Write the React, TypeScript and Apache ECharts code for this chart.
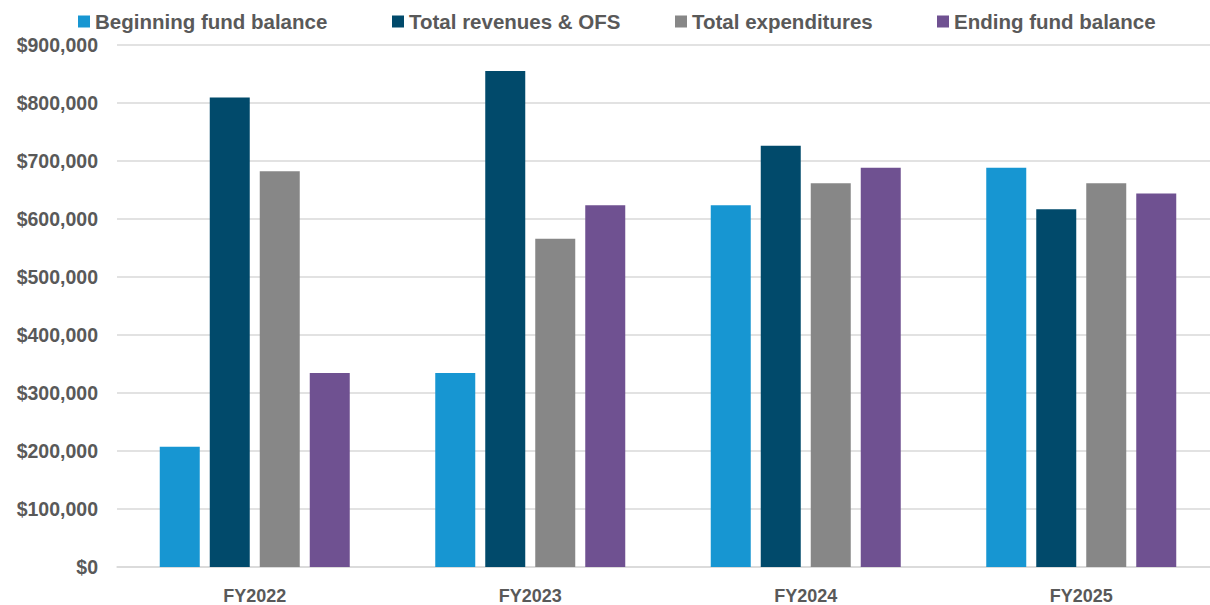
import React, { useEffect, useRef } from "react";
import * as echarts from "echarts";

// Fiscal years on the category axis
const years = ["FY2022", "FY2023", "FY2024", "FY2025"];

// Fund summary by fiscal year (dollars)
const beginningBalance = [207500, 334500, 623500, 688500];
const revenuesOFS = [809500, 855000, 726500, 617000];
const expenditures = [682500, 566000, 661500, 661500];
const endingBalance = [334500, 623500, 688500, 644000];

const seriesNames = [
  "Beginning fund balance",
  "Total revenues & OFS",
  "Total expenditures",
  "Ending fund balance",
];
const seriesColors = ["#1796D2", "#014A6B", "#878787", "#6F5191"];
const seriesValues = [beginningBalance, revenuesOFS, expenditures, endingBalance];

// Left offsets of the four legend entries across the top row
const legendLefts = [78, 392, 675, 937];

const FONT = "'Liberation Sans', Arial, sans-serif";
const TEXT = "#595959";

export default function App() {
  const ref = useRef<HTMLDivElement>(null);

  useEffect(() => {
    if (!ref.current) return;
    const chart = echarts.init(ref.current, undefined, { renderer: "svg" });

    chart.setOption({
      animation: false,
      backgroundColor: "#ffffff",
      textStyle: { fontFamily: FONT },
      legend: seriesNames.map((name, i) => ({
        data: [name],
        left: legendLefts[i],
        top: 11,
        icon: "rect",
        itemWidth: 12,
        itemHeight: 12,
        itemGap: 0,
        padding: 0,
        selectedMode: false,
        textStyle: {
          color: TEXT,
          fontSize: 20.5,
          fontWeight: "bold",
          fontFamily: FONT,
          padding: [0, 0, 0, 0],
        },
      })),
      grid: {
        left: 117,
        width: 1102,
        top: 45,
        bottom: 35,
        containLabel: false,
      },
      xAxis: {
        type: "category",
        data: years,
        axisLine: { lineStyle: { color: "#D9D9D9", width: 1.5 } },
        axisTick: { show: false },
        axisLabel: {
          color: TEXT,
          fontSize: 18,
          fontWeight: "bold",
          fontFamily: FONT,
          margin: 20,
        },
      },
      yAxis: {
        type: "value",
        min: 0,
        max: 900000,
        interval: 100000,
        axisLine: { show: false },
        axisTick: { show: false },
        splitLine: { lineStyle: { color: "#D9D9D9", width: 1.5 } },
        axisLabel: {
          color: TEXT,
          fontSize: 19.5,
          fontWeight: "bold",
          fontFamily: FONT,
          margin: 19,
          formatter: (v: number) => "$" + v.toLocaleString("en-US"),
        },
      },
      series: seriesNames.map((name, i) => ({
        name,
        type: "bar",
        data: seriesValues[i],
        barWidth: 40,
        barGap: "25%",
        itemStyle: { color: seriesColors[i] },
      })),
    });

    return () => chart.dispose();
  }, []);

  return (
    <div
      ref={ref}
      style={{ position: "fixed", left: 0, top: 0, width: 1220, height: 605 }}
    />
  );
}
